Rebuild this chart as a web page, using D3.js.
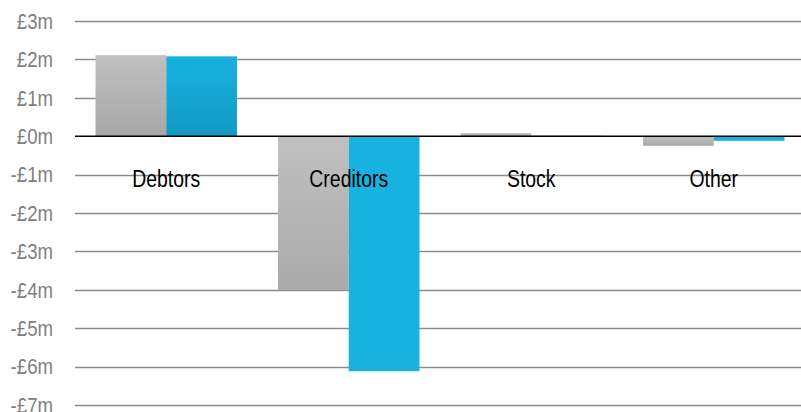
<!DOCTYPE html>
<html>
<head>
<meta charset="utf-8">
<script src="https://cdn.jsdelivr.net/npm/d3@7"></script>
<style>
  html, body { margin: 0; padding: 0; background: #ffffff; }
  svg { display: block; }
  text { font-family: "Liberation Sans", Arial, sans-serif; }
</style>
</head>
<body>
<svg id="chart" width="801" height="412"></svg>
<script>
// Working capital movements by category, £m
const categories = ["Debtors", "Creditors", "Stock", "Other"];
const seriesA = [2.11, -4.01, 0.08, -0.25];   // grey series
const seriesB = [2.08, -6.12, 0.01, -0.12];   // blue series
const tickValues = [3, 2, 1, 0, -1, -2, -3, -4, -5, -6, -7];
const tickLabels = ["£3m", "£2m", "£1m", "£0m", "-£1m", "-£2m", "-£3m", "-£4m", "-£5m", "-£6m", "-£7m"];

const svg = d3.select("#chart");
const margin = { left: 75, right: -4, top: 21, bottom: 7 };
const W = 801, H = 412;
const NARROW = 0.81; // horizontal squeeze for a condensed look

const y = d3.scaleLinear().domain([3, -7]).range([margin.top, H - margin.bottom]);
const x = d3.scaleBand().domain(categories).range([margin.left, W - margin.right]).paddingInner(0.225).paddingOuter(0.1125);
const xs = d3.scaleBand().domain(["A", "B"]).range([0, x.bandwidth()]);

// gradients
const defs = svg.append("defs");
function grad(id, c0, c1) {
  const g = defs.append("linearGradient").attr("id", id).attr("x1", 0).attr("y1", 0).attr("x2", 0).attr("y2", 1);
  g.append("stop").attr("offset", "0%").attr("stop-color", c0);
  g.append("stop").attr("offset", "100%").attr("stop-color", c1);
}
grad("greyGrad", "#c0c0c0", "#a7a7a7");
grad("blueGrad", "#17b2e0", "#1499c4");
grad("greyNeg", "#c0c0c0", "#aaaaaa");

// gridlines
svg.append("g").selectAll("line").data(tickValues.filter(v => v !== 0)).join("line")
  .attr("x1", margin.left).attr("x2", W)
  .attr("y1", d => Math.round(y(d)) + 0.5).attr("y2", d => Math.round(y(d)) + 0.5)
  .attr("stroke", "#8c8c8c").attr("stroke-width", 1.4);

// y axis labels
const labelByValue = new Map(tickValues.map((v, i) => [v, tickLabels[i]]));
const yAxis = d3.axisLeft(y).tickValues(tickValues).tickFormat(d => labelByValue.get(d)).tickSize(0).tickPadding(0);
const ag = svg.append("g").attr("transform", "translate(53,0)").call(yAxis);
ag.select(".domain").remove();
ag.selectAll("text")
  .attr("fill", "#808080")
  .attr("font-size", 23)
  .attr("transform", `scale(${NARROW},1)`)
  .style("font-family", "\"Liberation Sans\", Arial, sans-serif");

// bars
const rows = categories.map((c, i) => ({ c, a: seriesA[i], b: seriesB[i] }));
const bars = svg.append("g");
rows.forEach(r => {
  [["A", r.a], ["B", r.b]].forEach(([k, v]) => {
    const fill = k === "A" ? (v >= 0 ? "url(#greyGrad)" : "url(#greyNeg)") : (v >= 0 ? "url(#blueGrad)" : "#17b2e0");
    bars.append("rect")
      .attr("x", x(r.c) + xs(k))
      .attr("width", xs.bandwidth())
      .attr("y", y(Math.max(0, v)))
      .attr("height", Math.max(1, Math.abs(y(v) - y(0))))
      .attr("fill", Math.abs(v) < 0.03 && k === "B" ? "#0f6f8e" : fill);
  });
});

// zero line
svg.append("line").attr("x1", margin.left).attr("x2", W)
  .attr("y1", y(0)).attr("y2", y(0)).attr("stroke", "#000").attr("stroke-width", 1.6);

// category labels
svg.append("g").selectAll("text").data(categories).join("text")
  .attr("transform", d => `translate(${x(d) + x.bandwidth() / 2},187) scale(${NARROW},1)`)
  .attr("text-anchor", "middle")
  .attr("font-size", 24)
  .attr("fill", "#000")
  .text(d => d);
</script>
</body>
</html>
